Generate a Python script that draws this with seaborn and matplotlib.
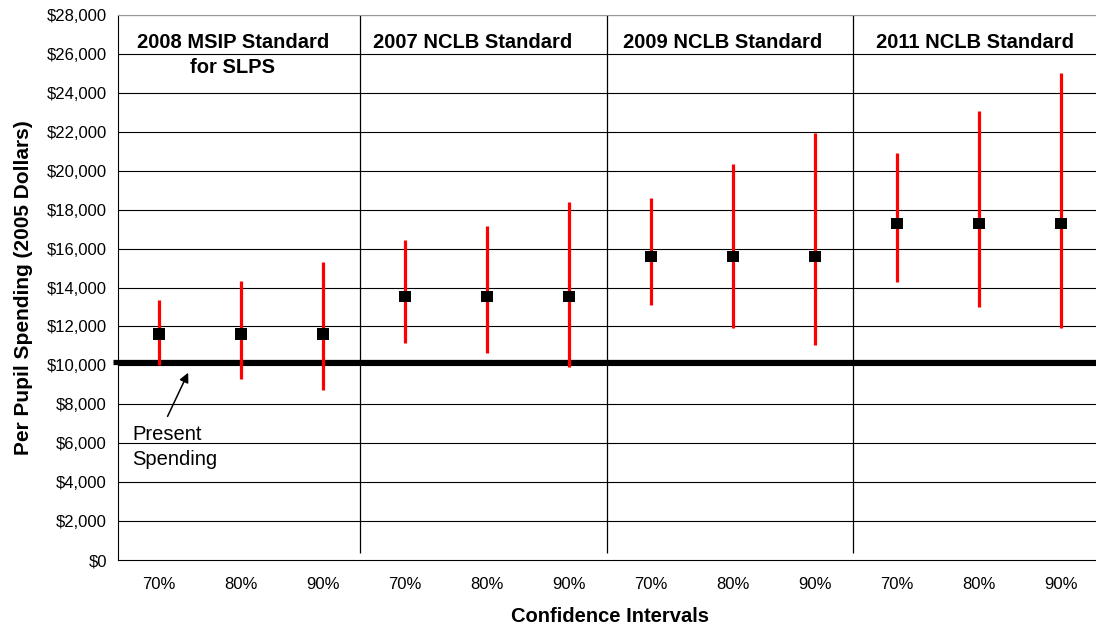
#importing all libraries
import numpy as np
import pandas as pd
import seaborn as sns
import matplotlib.pyplot as plt
from matplotlib.ticker import FuncFormatter, MultipleLocator

#chart data
standards = ["2008 MSIP Standard\nfor SLPS", "2007 NCLB Standard",
             "2009 NCLB Standard", "2011 NCLB Standard"]
levels = ["70%", "80%", "90%"]
estimate = [11600, 13550, 15600, 17300]
low_2008 = [10000, 9300, 8750]
high_2008 = [13350, 14350, 15300]
low_2007 = [11150, 10650, 9900]
high_2007 = [16450, 17150, 18400]
low_2009 = [13100, 11900, 11050]
high_2009 = [18600, 20350, 21950]
low_2011 = [14300, 13000, 11900]
high_2011 = [20900, 23050, 25000]
present_spending = 10150

#building the long table, one row per interval
lows = [low_2008, low_2007, low_2009, low_2011]
highs = [high_2008, high_2007, high_2009, high_2011]
rows = []
for i, std in enumerate(standards):
    for j, lev in enumerate(levels):
        rows.append({"standard": std, "level": lev, "pos": i * 3 + j,
                     "estimate": estimate[i], "low": lows[i][j], "high": highs[i][j]})
df = pd.DataFrame(rows)

sns.set_style("white")
plt.rcParams['font.family'] = ['Liberation Sans', 'DejaVu Sans']
plt.rcParams['text.color'] = 'black'
plt.rcParams['axes.labelcolor'] = 'black'
plt.rcParams['xtick.color'] = 'black'
plt.rcParams['ytick.color'] = 'black'

fig = plt.figure(figsize=(10.96, 6.26), dpi=100)
ax = fig.add_axes([118 / 1096, 66 / 626, 984 / 1096, 545 / 626])

#gridlines and group dividers
for v in range(2000, 28001, 2000):
    ax.axhline(v, color="black", lw=0.8, zorder=1)
for d in [2.45, 5.46, 8.46]:
    ax.vlines(d, 350, 28000, color="black", lw=0.9, zorder=1)

#present spending line
ax.plot([-0.56, 11.5], [present_spending, present_spending], color="black",
        lw=3.8, solid_capstyle="butt", clip_on=False, zorder=2)

#confidence intervals and point estimates
ax.vlines(df["pos"], df["low"], df["high"], color="#ff0000", lw=2.3, zorder=3)
sns.scatterplot(data=df, x="pos", y="estimate", marker="s", s=68, color="black",
                edgecolor="none", ax=ax, zorder=4)

#group titles
title_x = [0.90, 3.82, 6.87, 9.95]
for tx, std in zip(title_x, standards):
    ax.text(tx, 27100, std, ha="center", va="top", fontsize=14.5,
            fontweight="bold", linespacing=1.45)

#annotation
ax.annotate("", xy=(0.37, 9750), xytext=(0.09, 7250),
            arrowprops=dict(arrowstyle="-|>", color="black", lw=1.1, mutation_scale=14))
ax.text(-0.33, 6950, "Present\nSpending", ha="left", va="top", fontsize=14.5, linespacing=1.4)

#axes styling
ax.set_xlim(-0.5, 11.5)
ax.set_ylim(0, 28000)
ax.set_xticks(df["pos"])
ax.set_xticklabels(df["level"], fontsize=12)
ax.xaxis.set_minor_locator(MultipleLocator(1, offset=0.5))
ax.tick_params(axis="x", which="major", length=0, pad=12)
ax.tick_params(axis="x", which="minor", direction="inout", length=12, width=1, color="black")
ax.yaxis.set_major_locator(MultipleLocator(2000))
ax.yaxis.set_major_formatter(FuncFormatter(lambda v, p: f"${v:,.0f}"))
ax.tick_params(axis="y", direction="out", length=5, width=1, color="black", labelsize=12, pad=3)
ax.spines["top"].set_color("#999999")
ax.spines["right"].set_visible(False)
ax.spines["left"].set_color("black")
ax.spines["bottom"].set_color("black")
ax.set_xlabel("Confidence Intervals", fontsize=14.5, fontweight="bold", labelpad=11)
ax.set_ylabel("Per Pupil Spending (2005 Dollars)", fontsize=15, fontweight="bold", labelpad=10)

plt.savefig("out.png", dpi=100)
